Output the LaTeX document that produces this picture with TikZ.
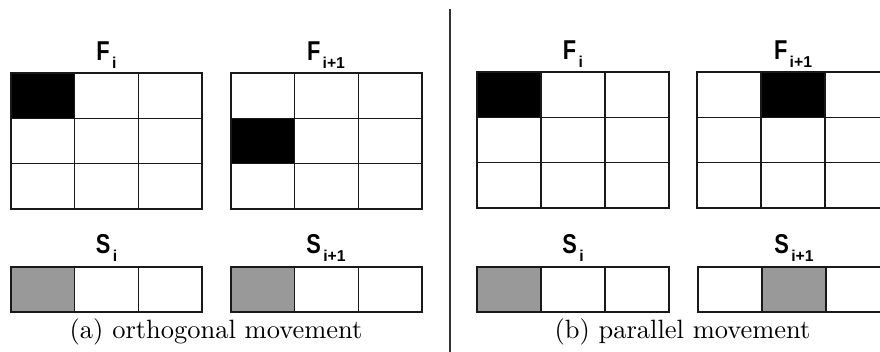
\documentclass[tikz,border=0pt]{standalone}
\usepackage{fontspec}
\usepackage{graphicx}
\newfontfamily\lblfont{Liberation Sans}
\newcommand{\gridlbl}[2]{{\lblfont\bfseries\fontsize{10.4}{11}\selectfont\scalebox{0.8}[1]{#1}\hspace{0.9pt}\raisebox{-3pt}{\fontsize{6}{7}\selectfont #2}}}
\newcommand{\cellgrid}[6]{% x0 y0 cw ch ncol nrow
  \foreach \cc in {1,...,#5}{\foreach \rr in {1,...,#6}{%
    \draw[cellline] ({#1+(\cc-1)*#3},{#2+(\rr-1)*#4}) rectangle ++(#3,#4);}}}
\newcommand{\cellfill}[6]{% x0 y0 cw ch col colour
  \fill[#6] ({#1+(#5-1)*#3},{#2}) rectangle ++(#3,#4);}
\begin{document}
\begin{tikzpicture}[x=0.3816pt,y=-0.3816pt,
  cellline/.style={draw=black!90,line width=0.4pt},
  lbl/.style={anchor=base,inner sep=0pt},
  captext/.style={anchor=base,inner sep=0pt,font=\fontsize{10.1}{12}\selectfont},
  divider/.style={draw=black!80,line width=0.4pt}]
\useasboundingbox (0,0) rectangle (880,352);
\clip (0,0) rectangle (880,352);
% ---------- panel (a) ----------
\cellfill{11}{73}{63.67}{45.33}{1}{black}
\cellgrid{11}{73}{63.67}{45.33}{3}{3}
\cellfill{231}{118.33}{63.67}{45.33}{1}{black}
\cellgrid{231}{73}{63.67}{45.33}{3}{3}
\cellfill{11}{267}{63.67}{45}{1}{black!40}
\cellgrid{11}{267}{63.67}{45}{3}{1}
\cellfill{231}{267}{63.67}{45}{1}{black!40}
\cellgrid{231}{267}{63.67}{45}{3}{1}
\node[lbl] (fa1) at (106.5,61) {\gridlbl{F}{i}};
\node[lbl] (fa2) at (326,61) {\gridlbl{F}{i+1}};
\node[lbl] (sa1) at (106.5,254) {\gridlbl{S}{i}};
\node[lbl] (sa2) at (326,254) {\gridlbl{S}{i+1}};
\node[captext] (capa) at (216,339) {(a) orthogonal movement};
% ---------- divider ----------
\coordinate (dtop) at (450,9);
\coordinate (dbot) at (450,352);
\draw[divider] (dtop) -- (dbot);
% ---------- panel (b) ----------
\cellfill{477}{72}{64}{45.33}{1}{black}
\cellgrid{477}{72}{64}{45.33}{3}{3}
\cellfill{697}{72}{64}{45.33}{2}{black}
\cellgrid{697}{72}{64}{45.33}{3}{3}
\cellfill{477}{267}{64}{45}{1}{black!40}
\cellgrid{477}{267}{64}{45}{3}{1}
\cellfill{698}{267}{64}{45}{2}{black!40}
\cellgrid{698}{267}{64}{45}{3}{1}
\node[lbl] (fb1) at (573,60) {\gridlbl{F}{i}};
\node[lbl] (fb2) at (793,60) {\gridlbl{F}{i+1}};
\node[lbl] (sb1) at (573,254) {\gridlbl{S}{i}};
\node[lbl] (sb2) at (794,254) {\gridlbl{S}{i+1}};
\node[captext] (capb) at (682.5,339) {(b) parallel movement};
\end{tikzpicture}
\end{document}
